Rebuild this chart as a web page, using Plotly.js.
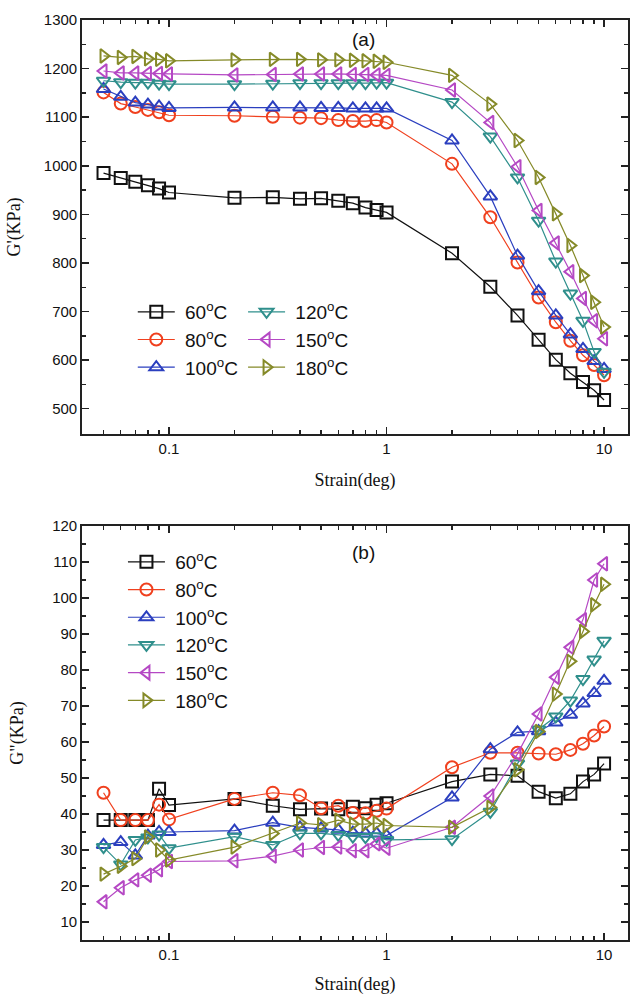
<!DOCTYPE html>
<html>
<head>
<meta charset="utf-8">
<script src="https://cdn.plot.ly/plotly-3.0.1.min.js"></script>
<style>html,body{margin:0;padding:0;background:#fff;}#chart{width:635px;height:995px;}</style>
</head>
<body>
<div id="chart"></div>
<script>
// Strain (deg)
const strain = [0.05,0.06,0.07,0.08,0.09,0.1,0.2,0.3,0.4,0.5,0.6,0.7,0.8,0.9,1,2,3,4,5,6,7,8,9,10];

// Series labels (leading no-break space only pads the legend text)
const seriesNames = ['\u00A060<sup>o</sup>C','\u00A080<sup>o</sup>C','\u00A0100<sup>o</sup>C','\u00A0120<sup>o</sup>C','\u00A0150<sup>o</sup>C','\u00A0180<sup>o</sup>C'];

// (a) G' (KPa)
const gp60  = [985,975,967,960,953,945,934,935,932,933,928,923,914,909,904,820,751,692,642,601,573,555,538,518];
const gp80  = [1151,1128,1121,1115,1110,1104,1103,1101,1099,1098,1094,1092,1092,1094,1089,1004,894,801,729,678,640,610,590,569];
const gp100 = [1158,1142,1130,1126,1122,1119,1120,1120,1120,1119,1119,1118,1118,1118,1118,1052,937,815,742,692,653,623,598,582];
const gp120 = [1175,1172,1171,1171,1169,1168,1168,1169,1170,1170,1170,1170,1170,1171,1171,1131,1060,976,887,803,737,681,617,576];
const gp150 = [1195,1191,1191,1190,1190,1189,1187,1188,1189,1189,1189,1188,1188,1187,1186,1156,1089,998,908,841,782,727,681,644];
const gp180 = [1226,1223,1225,1220,1219,1216,1218,1219,1219,1218,1218,1217,1216,1215,1213,1186,1127,1052,976,901,836,774,719,668];

// (b) G'' (KPa)
const gpp60  = [38.3,38.3,38.3,38.3,47.0,42.5,44.2,42.3,41.3,41.5,41.3,42.0,41.6,42.6,43.0,49.0,51.0,50.6,46.2,44.4,45.6,49.0,51.0,54.0];
const gpp80  = [45.9,38.3,38.3,38.3,42.6,38.5,44.2,45.9,45.2,41.6,42.3,40.3,40.2,40.9,41.5,53.0,57.0,57.0,56.8,56.6,57.8,59.5,61.8,64.3];
const gpp100 = [31.4,32.2,28.5,34.0,35.0,35.0,35.4,37.6,36.3,36.0,35.6,34.8,34.6,34.6,34.0,44.6,58.0,62.7,63.0,65.4,67.6,70.7,73.6,77.0];
const gpp120 = [30.8,26.0,32.8,33.5,34.3,30.5,33.7,31.4,34.6,34.6,34.2,33.7,33.6,33.8,32.8,33.0,40.6,54.0,63.5,67.1,71.5,77.5,82.9,88.1];
const gpp150 = [15.6,19.5,21.7,23.0,24.5,26.8,27.0,28.3,30.0,30.7,30.8,29.8,29.8,31.7,30.5,36.3,45.0,56.7,67.8,78.0,86.3,94.0,105.0,109.5];
const gpp180 = [23.3,25.5,27.6,33.6,30.0,27.2,30.8,34.6,37.5,37.0,38.3,37.2,37.2,37.5,36.8,36.3,41.8,52.3,62.9,73.3,82.4,90.7,98.1,103.8];

const colors  = ['#111111','#f0401e','#2b3fbf','#2f8f8c','#b548c4','#858a28'];
const symbols = ['square-open','circle-open','triangle-up-open','triangle-down-open','triangle-left-open','triangle-right-open'];
const topData = [gp60,gp80,gp100,gp120,gp150,gp180];
const botData = [gpp60,gpp80,gpp100,gpp120,gpp150,gpp180];
// legend (a): two columns
const topLegend = ['legend','legend','legend','legend3','legend3','legend3'];

const traces = [];
topData.forEach((y,i)=>{
  traces.push({x:strain,y:y,type:'scatter',mode:'lines+markers',name:seriesNames[i],
    xaxis:'x',yaxis:'y',legend:topLegend[i],legendrank:i+1,
    line:{color:colors[i],width:1.2},
    marker:{symbol:symbols[i],size:12,color:colors[i],line:{width:2,color:colors[i]}}});
});
botData.forEach((y,i)=>{
  traces.push({x:strain,y:y,type:'scatter',mode:'lines+markers',name:seriesNames[i],
    xaxis:'x2',yaxis:'y2',legend:'legend2',legendrank:i+1,
    line:{color:colors[i],width:1.2},
    marker:{symbol:symbols[i],size:12,color:colors[i],line:{width:2,color:colors[i]}}});
});

const tickFont = {family:'Liberation Sans, Arial, sans-serif',size:15,color:'#111'};
const titleFont = {family:'Liberation Serif, Times New Roman, serif',size:18,color:'#111'};
const legFont = {family:'Liberation Sans, Arial, sans-serif',size:19,color:'#111'};

function xax(anchor){
  return {type:'log',range:[-1.40,1.11],anchor:anchor,
    tickvals:[0.1,1,10],ticktext:['0.1','1','10'],
    ticks:'inside',ticklen:7,tickwidth:1.5,tickcolor:'#222',
    minor:{tickvals:[0.05,0.06,0.07,0.08,0.09,0.2,0.3,0.4,0.5,0.6,0.7,0.8,0.9,2,3,4,5,6,7,8,9],ticks:'inside',ticklen:4,tickwidth:1.3,tickcolor:'#222',showgrid:false},
    showline:true,linecolor:'#222',linewidth:1.8,mirror:'ticks',
    showgrid:false,zeroline:false,tickfont:tickFont,
    title:{text:'Strain(deg)',font:titleFont,standoff:18}};
}

const layout = {
  width:635,height:995,
  paper_bgcolor:'#ffffff',plot_bgcolor:'#ffffff',
  margin:{l:82,r:7,t:20,b:55},
  showlegend:true,
  xaxis:Object.assign(xax('y'),{domain:[0,1]}),
  xaxis2:Object.assign(xax('y2'),{domain:[0,1]}),
  yaxis:{domain:[0.55,1],range:[448,1300],dtick:100,tick0:0,anchor:'x',
    ticks:'inside',ticklen:7,tickwidth:1.5,tickcolor:'#222',
    minor:{dtick:50,ticks:'inside',ticklen:4,tickwidth:1.3,tickcolor:'#222',showgrid:false},
    showline:true,linecolor:'#222',linewidth:1.8,mirror:'ticks',
    showgrid:false,zeroline:false,tickfont:tickFont,
    title:{text:"G'(KPa)",font:titleFont,standoff:18}},
  yaxis2:{domain:[0,0.45],range:[5,120],dtick:10,tick0:0,anchor:'x2',
    ticks:'inside',ticklen:7,tickwidth:1.5,tickcolor:'#222',
    minor:{dtick:5,ticks:'inside',ticklen:4,tickwidth:1.3,tickcolor:'#222',showgrid:false},
    showline:true,linecolor:'#222',linewidth:1.8,mirror:'ticks',
    showgrid:false,zeroline:false,tickfont:tickFont,
    title:{text:'G"(KPa)',font:titleFont,standoff:24}},
  legend:{x:0.093,y:0.7033,xanchor:'left',yanchor:'top',orientation:'v',itemwidth:37,
    bgcolor:'rgba(0,0,0,0)',font:legFont},
  legend3:{x:0.295,y:0.7033,xanchor:'left',yanchor:'top',orientation:'v',itemwidth:37,
    bgcolor:'rgba(0,0,0,0)',font:legFont},
  legend2:{x:0.075,y:0.4315,xanchor:'left',yanchor:'top',orientation:'v',itemwidth:37,
    bgcolor:'rgba(0,0,0,0)',font:legFont},
  annotations:[
    {text:'(a)',xref:'paper',yref:'paper',x:0.515,y:0.992,showarrow:false,
      font:{family:'Liberation Sans, Arial, sans-serif',size:19,color:'#111'}},
    {text:'(b)',xref:'paper',yref:'paper',x:0.515,y:0.421,showarrow:false,
      font:{family:'Liberation Sans, Arial, sans-serif',size:19,color:'#111'}}
  ]
};

Plotly.newPlot('chart',traces,layout,{displayModeBar:false,staticPlot:true});
</script>
</body>
</html>
